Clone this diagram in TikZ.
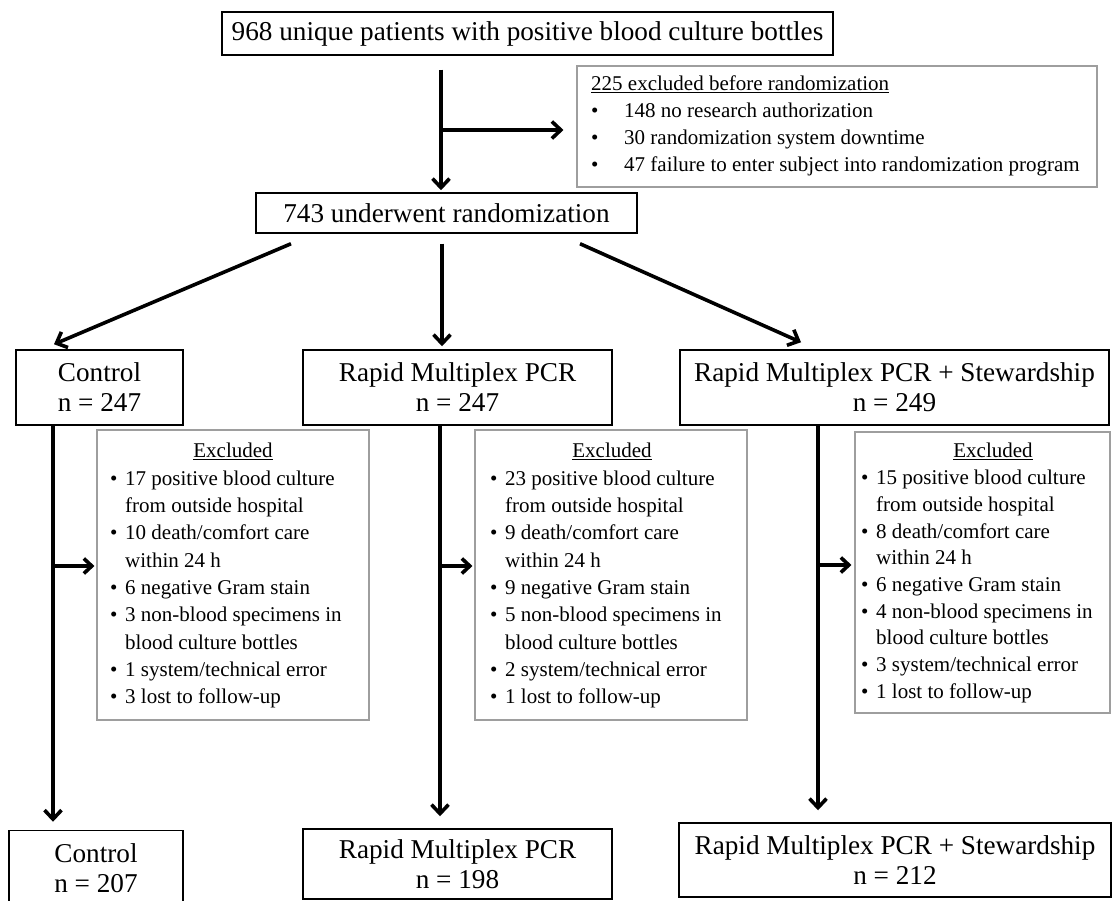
\documentclass[tikz,border=0pt]{standalone}
\usepackage{fontspec}
\setmainfont{Liberation Serif}
\usetikzlibrary{arrows.meta,calc}
\newcommand{\exbul}{\makebox[15pt][l]{\textbullet}}
\newcommand{\exind}{\hspace*{15pt}}
\newcommand{\topbul}{\makebox[33pt][l]{\textbullet}}
\begin{document}
\begin{tikzpicture}[x=1pt,y=-1pt,
  mainbox/.style={draw=black,line width=1.5pt,inner sep=0pt,align=center,font=\fontsize{27.2}{30}\selectfont},
  exbox/.style={draw=black!38,line width=1.1pt,inner sep=0pt},
  extext/.style={inner sep=0pt,align=left,anchor=north west,font=\fontsize{21}{27.3}\selectfont},
  exhead/.style={inner sep=0pt,font=\fontsize{21}{25}\selectfont},
  arr/.style={line width=3.6pt,-{Straight Barb[length=9pt,width=17pt]}},
  sarr/.style={line width=3.6pt,-{Straight Barb[length=8pt,width=15pt]}}
]
\useasboundingbox (0,0) rectangle (1113,901);
\fill[white] (0,0) rectangle (1113,901);

% main boxes
\node[mainbox,minimum width=611pt,minimum height=43pt] (top) at (527.5,33.5) {968 unique patients with positive blood culture bottles};
\node[mainbox,minimum width=381pt,minimum height=40pt] (rand) at (446.5,213) {743 underwent randomization};

\node[mainbox,minimum width=167pt,minimum height=75pt] (ctrl) at (99.5,387.5) {Control\\n = 247};
\node[mainbox,minimum width=309pt,minimum height=75pt] (rmp) at (457.5,387.5) {Rapid Multiplex PCR\\n = 247};
\node[mainbox,minimum width=429pt,minimum height=75pt] (rmps) at (894.5,387.5) {Rapid Multiplex PCR + Stewardship\\n = 249};

\node[mainbox,minimum width=174pt,minimum height=76pt] (ctrlb) at (96,868.5) {Control\\n = 207};
\node[mainbox,minimum width=309pt,minimum height=70pt] (rmpb) at (457.5,864) {Rapid Multiplex PCR\\n = 198};
\node[mainbox,minimum width=432pt,minimum height=74pt] (rmpsb) at (895,860) {Rapid Multiplex PCR + Stewardship\\n = 212};

% exclusion boxes
\node[exbox,minimum width=520pt,minimum height=121pt] (ex0) at (837,126.5) {};
\node[extext,font=\fontsize{21}{27}\selectfont] (ex0t) at (591,76) {\underline{225 excluded before randomization}\\
\topbul 148 no research authorization\\
\topbul 30 randomization system downtime\\
\topbul 47 failure to enter subject into randomization program};

\node[exbox,minimum width=272pt,minimum height=290pt] (ex1) at (233,575) {};
\node[exhead] (ex1h) at (233,451) {\underline{Excluded}};
\node[extext] (ex1t) at (110,470.5) {\exbul 17 positive blood culture\\
\exind from outside hospital\\
\exbul 10 death/comfort care\\
\exind within 24 h\\
\exbul 6 negative Gram stain\\
\exbul 3 non-blood specimens in\\
\exind blood culture bottles\\
\exbul 1 system/technical error\\
\exbul 3 lost to follow-up};

\node[exbox,minimum width=272pt,minimum height=290pt] (ex2) at (611,575) {};
\node[exhead] (ex2h) at (612,451) {\underline{Excluded}};
\node[extext] (ex2t) at (490,470.5) {\exbul 23 positive blood culture\\
\exind from outside hospital\\
\exbul 9 death/comfort care\\
\exind within 24 h\\
\exbul 9 negative Gram stain\\
\exbul 5 non-blood specimens in\\
\exind blood culture bottles\\
\exbul 2 system/technical error\\
\exbul 1 lost to follow-up};

\node[exbox,minimum width=255pt,minimum height=281pt] (ex3) at (982.5,572.5) {};
\node[exhead] (ex3h) at (993,451) {\underline{Excluded}};
\node[extext,font=\fontsize{21}{26.7}\selectfont] (ex3t) at (861,470) {\exbul 15 positive blood culture\\
\exind from outside hospital\\
\exbul 8 death/comfort care\\
\exind within 24 h\\
\exbul 6 negative Gram stain\\
\exbul 4 non-blood specimens in\\
\exind blood culture bottles\\
\exbul 3 system/technical error\\
\exbul 1 lost to follow-up};

% connectors
\draw[arr] ($(top.south)+(-86.5,14)$) -- ($(rand.north)+(-5.5,-2)$);
\coordinate (br) at (441,130);
\draw[arr] (br) -- ($(ex0.west)+(-13,3.5)$);

\draw[arr] ($(rand.south)+(-155.5,10)$) -- ($(ctrl.north)+(-45.5,-5)$);
\draw[arr] ($(rand.south)+(-4.5,10)$) -- ($(rmp.north)+(-15.5,-3)$);
\draw[arr] ($(rand.south)+(133.5,10)$) -- ($(rmps.north)+(-93.5,-7)$);

\draw[arr] ($(ctrl.south)+(-46.5,0)$) -- ($(ctrlb.north)+(-43,-8)$);
\draw[arr] ($(rmp.south)+(-17.5,0)$) -- ($(rmpb.north)+(-17.5,-12)$);
\draw[arr] ($(rmps.south)+(-76.5,0)$) -- ($(rmpsb.north)+(-77,-12)$);

\coordinate (j1) at (53,566);
\coordinate (j2) at (440,566);
\coordinate (j3) at (817.5,565);
\draw[sarr] (j1) -- ($(ex1.west)+(-2,-9)$);
\draw[sarr] (j2) -- ($(ex2.west)+(-2,-9)$);
\draw[sarr] (j3) -- ($(ex3.west)+(-3,-7.5)$);
\end{tikzpicture}
\end{document}
